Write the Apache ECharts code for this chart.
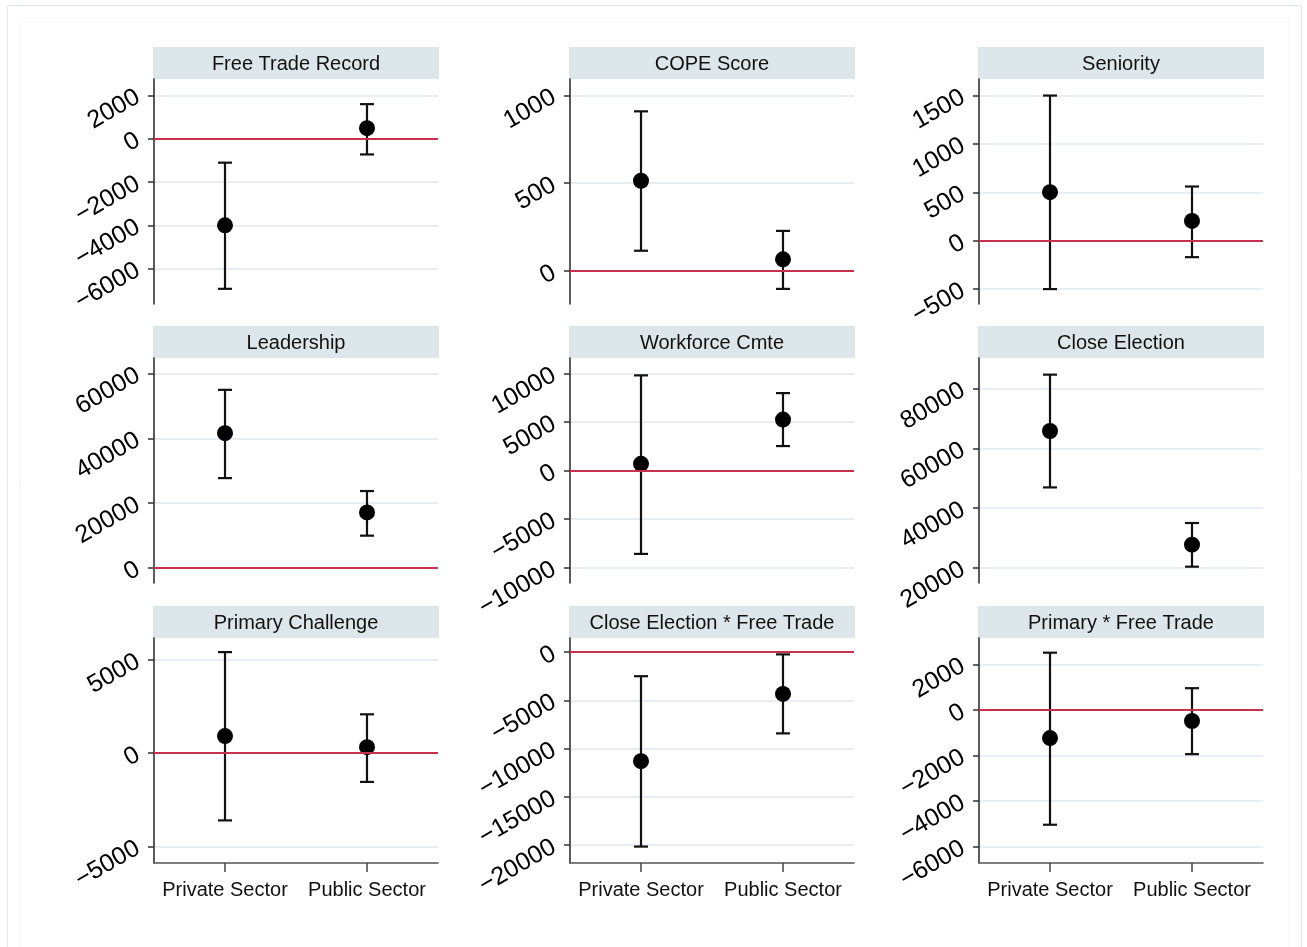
<!DOCTYPE html>
<html>
<head>
<meta charset="utf-8">
<script src="https://cdn.jsdelivr.net/npm/echarts@6/dist/echarts.min.js"></script>
<style>
html,body{margin:0;padding:0;background:#ffffff;}
#c{width:1307px;height:947px;}
</style>
</head>
<body>
<div id="c"></div>
<script>
// ---------------- DATA ----------------
const categories = ['Private Sector', 'Public Sector'];

const panelTitles = [
  'Free Trade Record', 'COPE Score', 'Seniority',
  'Leadership', 'Workforce Cmte', 'Close Election',
  'Primary Challenge', 'Close Election * Free Trade', 'Primary * Free Trade'
];

// point estimates [private, public]
const estimates = [
  [-4000, 480], [514, 67], [502, 204],
  [41600, 17100], [690, 5250], [65800, 27700],
  [914, 323], [-11300, -4330], [-1235, -485]
];
// lower bound of confidence interval [private, public]
const lowerBounds = [
  [-6930, -730], [116, -101], [-500, -170],
  [27700, 9900], [-8600, 2520], [46900, 20330],
  [-3600, -1540], [-20140, -8420], [-5040, -1940]
];
// upper bound of confidence interval [private, public]
const upperBounds = [
  [-1110, 1590], [909, 229], [1500, 560],
  [55000, 23700], [9810, 7980], [84700, 34970],
  [5410, 2080], [-2500, -240], [2515, 956]
];

// y-axis tick labels per panel
const yTicks = [
  [-6000, -4000, -2000, 0, 2000],
  [0, 500, 1000],
  [-500, 0, 500, 1000, 1500],
  [0, 20000, 40000, 60000],
  [-10000, -5000, 0, 5000, 10000],
  [20000, 40000, 60000, 80000],
  [-5000, 0, 5000],
  [-20000, -15000, -10000, -5000, 0],
  [-6000, -4000, -2000, 0, 2000]
];
// y-axis extents per panel [min, max]
const yRanges = [
  [-7630, 2750], [-187, 1093], [-654, 1671],
  [-4740, 64850], [-11600, 11600], [14860, 90280],
  [-5880, 6165], [-21840, 1456], [-6720, 3160]
];

// ---------------- LAYOUT / STYLE ----------------
const FONT = '"Liberation Sans", Arial, Helvetica, sans-serif';
const colLeft = [154, 570, 979];
const rowTop = [79, 358, 638];
const gridW = 284, gridH = 225, headH = 32;
const zeroColor = '#c8304e';
const gridColor = '#e8eef1';
const headFill = '#dde7eb';

const grids = [], xAxes = [], yAxes = [], series = [];
const graphics = [
  {type:'rect', shape:{x:7.5, y:5.5, width:1294, height:960}, style:{fill:'none', stroke:'#e1e8eb', lineWidth:1}, silent:true, z:0},
  {type:'rect', shape:{x:20.5, y:18.5, width:1268, height:940}, style:{fill:'none', stroke:'#f6f7f8', lineWidth:1}, silent:true, z:0}
];

for (let i = 0; i < 9; i++) {
  const r = Math.floor(i / 3), c = i % 3;
  const left = colLeft[c], top = rowTop[r];
  const isBottom = r === 2;
  grids.push({left: left, top: top, width: gridW, height: gridH, containLabel: false});

  xAxes.push({
    type: 'category', gridIndex: i, data: categories, boundaryGap: true,
    axisLine: {show: isBottom, onZero: false, lineStyle: {color: '#555', width: 1.6}},
    axisTick: {show: isBottom, alignWithLabel: true, interval: 0, length: 9, lineStyle: {color: '#444', width: 1.5}},
    axisLabel: {show: isBottom, interval: 0, hideOverlap: false, margin: 17, fontSize: 20, color: '#111', fontFamily: FONT},
    splitLine: {show: false}
  });

  yAxes.push({
    type: 'value', gridIndex: i, min: yRanges[i][0], max: yRanges[i][1],
    axisLine: {show: true, lineStyle: {color: '#333', width: 1.6}},
    axisTick: {show: true, length: 6, customValues: yTicks[i], lineStyle: {color: '#333', width: 1.5}},
    axisLabel: {show: true, customValues: yTicks[i], rotate: 30, margin: 16, fontSize: 25,
      color: '#000', fontFamily: FONT, padding: [6, 0, 0, 0],
      formatter: function (v) { return v < 0 ? '\u2212' + String(-v) : String(v); }},
    splitLine: {show: true, lineStyle: {color: gridColor, width: 2}}
  });

  // zero reference line
  if (yRanges[i][0] < 0 && yRanges[i][1] > 0) {
    series.push({
      type: 'line', xAxisIndex: i, yAxisIndex: i, data: [], z: 1, silent: true,
      markLine: {silent: true, symbol: 'none', animation: false,
        label: {show: false},
        lineStyle: {color: zeroColor, width: 2, type: 'solid'},
        data: [{yAxis: 0}]}
    });
  }

  // confidence intervals
  series.push({
    type: 'custom', xAxisIndex: i, yAxisIndex: i, z: 3, silent: true,
    data: categories.map((cat, k) => [k, lowerBounds[i][k], upperBounds[i][k]]),
    renderItem: function (params, api) {
      const x = api.value(0);
      const lo = api.coord([x, api.value(1)]);
      const hi = api.coord([x, api.value(2)]);
      const hw = 7;
      const st = {stroke: '#111', lineWidth: 2.2};
      return {type: 'group', children: [
        {type: 'line', shape: {x1: lo[0], y1: lo[1], x2: hi[0], y2: hi[1]}, style: st},
        {type: 'line', shape: {x1: lo[0] - hw, y1: lo[1], x2: lo[0] + hw, y2: lo[1]}, style: st},
        {type: 'line', shape: {x1: hi[0] - hw, y1: hi[1], x2: hi[0] + hw, y2: hi[1]}, style: st}
      ]};
    }
  });

  // point estimates
  series.push({
    type: 'scatter', xAxisIndex: i, yAxisIndex: i, z: 4, silent: true,
    symbol: 'circle', symbolSize: 16,
    itemStyle: {color: '#000', opacity: 1},
    data: estimates[i]
  });

  // panel header strip
  graphics.push({
    type: 'group', silent: true, z: 5,
    children: [
      {type: 'rect', shape: {x: left - 1, y: top - headH, width: gridW + 2, height: headH},
        style: {fill: headFill}},
      {type: 'text', x: left + gridW / 2, y: top - headH / 2 + 1,
        style: {text: panelTitles[i], fill: '#111', font: '20px ' + FONT,
          textAlign: 'center', textVerticalAlign: 'middle'}}
    ]
  });
}

const chart = echarts.init(document.getElementById('c'), null, {renderer: 'canvas'});
chart.setOption({
  animation: false,
  backgroundColor: '#ffffff',
  grid: grids,
  xAxis: xAxes,
  yAxis: yAxes,
  series: series,
  graphic: graphics
});
</script>
</body>
</html>
